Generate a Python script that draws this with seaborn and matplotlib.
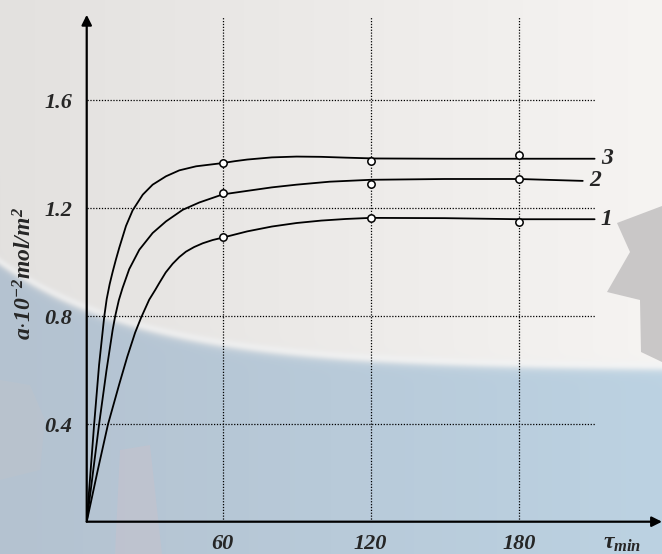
import numpy as np
import pandas as pd
import matplotlib.pyplot as plt
import seaborn as sns
from matplotlib.patches import Polygon

sns.set_theme(style="white")
plt.rcParams["font.family"] = ["Liberation Serif", "DejaVu Serif"]
plt.rcParams["mathtext.fontset"] = "custom"
for k in ("rm", "it", "bf", "sf"):
    plt.rcParams["mathtext." + k] = "Liberation Serif:italic:bold"

# smooth fitted curves (t in min, a in 1e-2 mol/m2)
t1 = [5, 9.5, 13.6, 18.2, 21.4, 24.6, 27.0, 30.3, 32.8, 34.4, 37.0, 39.8, 42.5, 45.2, 48.5, 52.0, 56.0, 60.1, 70,
      80, 90, 100, 110, 120, 150, 180, 210.7]
a1 = [0.04, 0.232, 0.40, 0.55, 0.65, 0.74, 0.795, 0.862, 0.899, 0.924, 0.963, 0.995, 1.020, 1.040, 1.057, 1.071, 1.083, 1.092, 1.115,
      1.133, 1.146, 1.155, 1.161, 1.165, 1.164, 1.160, 1.160]
t2 = [5, 10.0, 13.0, 15.5, 16.5, 18.0, 19.5, 22.2, 26.3, 31.7, 37.1, 43.9, 50.6, 60.1, 70,
      80, 90, 103.4, 120, 150, 180, 205.9]
a2 = [0.04, 0.40, 0.60, 0.75, 0.80, 0.86, 0.905, 0.975, 1.047, 1.109, 1.152, 1.195, 1.222, 1.252, 1.265,
      1.278, 1.288, 1.299, 1.306, 1.309, 1.309, 1.302]
t3 = [5, 8.0, 10.0, 12.1, 13.1, 14.3, 15.5, 16.8, 18.2, 20.9, 23.6, 27.7, 31.7, 37.1, 42.5, 49.3, 60.1, 65, 70, 80, 90,
      100, 110, 121.6, 150, 180, 210.7]
a3 = [0.04, 0.40, 0.62, 0.80, 0.865, 0.92, 0.965, 1.01, 1.055, 1.135, 1.193, 1.251, 1.288, 1.319, 1.341, 1.356, 1.368, 1.375,
      1.381, 1.389, 1.392, 1.391, 1.388, 1.385, 1.384, 1.384, 1.384]

# measured points
t_pts = [60, 120, 180]
pts1 = [1.094, 1.166, 1.151]
pts2 = [1.256, 1.291, 1.309]
pts3 = [1.370, 1.376, 1.396]

x_ticks = [60, 120, 180]
y_ticks = [0.4, 0.8, 1.2, 1.6]
curve_names = ["1", "2", "3"]

curves = pd.concat([
    pd.DataFrame({"t": t1, "a": a1, "curve": "1"}),
    pd.DataFrame({"t": t2, "a": a2, "curve": "2"}),
    pd.DataFrame({"t": t3, "a": a3, "curve": "3"}),
])
points = pd.DataFrame({
    "t": t_pts * 3,
    "a": pts1 + pts2 + pts3,
    "curve": ["1"] * 3 + ["2"] * 3 + ["3"] * 3,
})

fig = plt.figure(figsize=(6.62, 5.54), dpi=100)

# background picture behind the chart (light grey top, blue-grey bottom)
H, W = 554, 662
yy, xx = np.mgrid[0:H, 0:W]
fx = (xx / W)[..., None]
top = np.array([227, 225, 223]) + (np.array([246, 244, 242]) - np.array([227, 225, 223])) * fx
bot = np.array([180, 194, 208]) + (np.array([188, 210, 226]) - np.array([180, 194, 208])) * fx
edge = 265 + 105 * (1 - np.exp(-xx / 150))
w = 1 / (1 + np.exp(-(yy - edge) / 2.5))
img = top * (1 - w[..., None]) + bot * w[..., None]
# faint light fringe along the boundary
fringe = np.exp(-((yy - edge + 4) / 4.0) ** 2)[..., None]
img = img + (248 - img) * 0.5 * fringe
bg = fig.add_axes([0, 0, 1, 1], zorder=-10)
bg.imshow(np.clip(img, 0, 255).astype(np.uint8), extent=(0, W, H, 0), aspect="auto")
bg.add_patch(Polygon([(617, 223), (662, 206), (662, 362), (641, 352), (640, 300), (607, 292), (630, 252)],
                     closed=True, fc=(0.79, 0.78, 0.78), ec="none"))
bg.add_patch(Polygon([(0, 380), (30, 385), (45, 420), (40, 470), (0, 480)],
                     closed=True, fc=(0.74, 0.76, 0.80), ec="none", alpha=0.5))
bg.add_patch(Polygon([(120, 450), (150, 445), (162, 554), (115, 554)],
                     closed=True, fc=(0.78, 0.76, 0.80), ec="none", alpha=0.5))
bg.set_xlim(0, W)
bg.set_ylim(H, 0)
bg.axis("off")

ax = fig.add_axes([0.131, 0.0583, 0.869, 0.915])
ax.set_facecolor("none")

# dotted grid, drawn by hand since it stops short of the arrows
ax.hlines(y_ticks, 5, 210.7, colors="black", linestyles=(0, (1, 1.3)), lw=0.9, zorder=1)
ax.vlines(x_ticks, 0.04, 1.91, colors="black", linestyles=(0, (1, 1.3)), lw=0.9, zorder=1)

sns.lineplot(data=curves, x="t", y="a", units="curve", estimator=None, sort=False,
             color="black", lw=1.3, ax=ax, zorder=3)
sns.scatterplot(data=points, x="t", y="a", marker="o", s=28, facecolor="white",
                edgecolor="black", linewidth=1.1, ax=ax, zorder=4)

# curve numbers at the right end
ends = [(t1[-1], a1[-1]), (t2[-1], a2[-1]), (t3[-1], a3[-1])]
for name, (te, ae) in zip(curve_names, ends):
    ax.text(te + 2.5, ae, name, fontsize=17, fontweight="bold", style="italic",
            ha="left", va="center")

ax.set_xlim(5, 238)
ax.set_ylim(0.04, 1.917)
ax.set_xticks(x_ticks)
ax.set_yticks(y_ticks)
ax.set_xticklabels([str(v) for v in x_ticks])
ax.set_yticklabels([f"{v:.1f}" for v in y_ticks])
for lab in ax.get_xticklabels() + ax.get_yticklabels():
    lab.set_fontsize(16)
    lab.set_fontweight("bold")
    lab.set_style("italic")
ax.tick_params(axis="both", direction="out", length=7.5, width=1.5, color="black", pad=3)
ax.tick_params(axis="x", pad=1.5)
for s in ax.spines.values():
    s.set_visible(False)

# axes drawn as arrows
ax.annotate("", xy=(1.0, 0), xytext=(0, 0), xycoords="axes fraction",
            arrowprops=dict(arrowstyle="-|>", lw=1.6, color="black", mutation_scale=15, shrinkA=0, shrinkB=0))
ax.annotate("", xy=(0, 1.0), xytext=(0, 0), xycoords="axes fraction",
            arrowprops=dict(arrowstyle="-|>", lw=1.6, color="black", mutation_scale=15, shrinkA=0, shrinkB=0))

ax.set_xlabel("")
ax.set_ylabel(r"$a{\cdot}10^{-2}mol/m^2$", fontsize=17, labelpad=2)
ax.yaxis.set_label_coords(-0.088, 0.49)
fig.text(603 / 662, 1 - 543 / 554, r"$\tau_{min}$", fontsize=17, ha="left", va="center")

fig.savefig("out.png", dpi=100)
